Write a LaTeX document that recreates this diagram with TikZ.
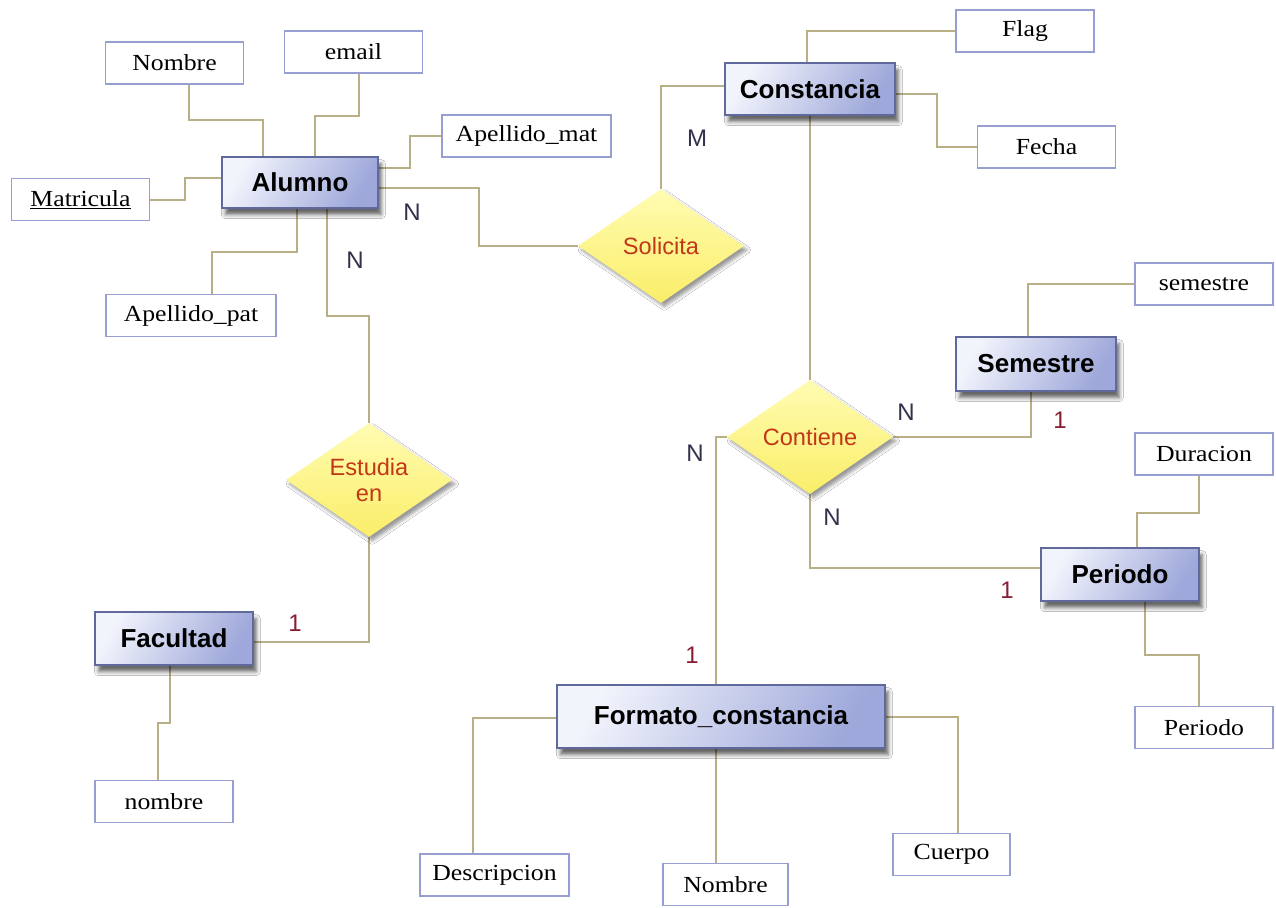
\documentclass[tikz,border=0pt]{standalone}
\usepackage{fontspec}
\usepackage{tikz}
\usetikzlibrary{shapes.geometric, shadows.blur, backgrounds, calc}
\newfontfamily\sansent{Liberation Sans}
\newfontfamily\serifatr[FakeStretch=1.12]{Liberation Serif}
\definecolor{lineaer}{RGB}{185,175,135}
\definecolor{bordeatr}{RGB}{150,158,210}
\definecolor{bordeent}{RGB}{95,105,155}
\definecolor{entclaro}{RGB}{242,244,252}
\definecolor{entoscuro}{RGB}{158,168,218}
\definecolor{relclaro}{RGB}{255,252,178}
\definecolor{reloscuro}{RGB}{250,238,105}
\definecolor{relrojo}{RGB}{195,55,25}
\definecolor{cardazul}{RGB}{50,50,75}
\definecolor{cardrojo}{RGB}{135,30,50}

\begin{document}
\begin{tikzpicture}[x=0.75pt, y=-0.75pt,
    entidad/.style={rectangle, draw=bordeent, line width=1pt,
      left color=entclaro, right color=entoscuro, shading angle=60,
      blur shadow={shadow xshift=2.5pt, shadow yshift=-5pt,
                   shadow blur radius=3pt, shadow opacity=60},
      inner sep=0pt, font=\sansent\bfseries\fontsize{19.5}{22}\selectfont},
    atributo/.style={rectangle, draw=bordeatr, line width=1.2pt, fill=white,
      minimum width=103.5pt, minimum height=31.5pt, inner sep=0pt,
      font=\serifatr\fontsize{17.25}{20}\selectfont},
    relacion/.style={diamond, aspect=1.45, minimum width=124.5pt,
      minimum height=85.5pt, inner sep=0pt,
      top color=relclaro, bottom color=reloscuro,
      blur shadow={shadow xshift=2.5pt, shadow yshift=-3pt,
                   shadow blur radius=2.5pt, shadow opacity=40},
      align=center, text=relrojo,
      font=\sansent\fontsize{17.7}{19.5}\selectfont},
    card/.style={font=\sansent\fontsize{18}{20}\selectfont, text=cardazul},
    cardu/.style={card, text=cardrojo},
    enlace/.style={draw=lineaer, line width=1.5pt}]

    \useasboundingbox (0,0) rectangle (1276,907);

    % Entidades
    \node[entidad, minimum width=117pt, minimum height=38.25pt]
      (alumno) at (300,182.5) {Alumno};
    \node[entidad, minimum width=127.5pt, minimum height=39pt]
      (const) at (810,89) {Constancia};
    \node[entidad, minimum width=120pt, minimum height=40.5pt]
      (semE) at (1036,364) {Semestre};
    \node[entidad, minimum width=118.5pt, minimum height=39.75pt]
      (perE) at (1120,574.5) {Periodo};
    \node[entidad, minimum width=246pt, minimum height=47.25pt]
      (formato) at (721,716.5) {Formato\_constancia};
    \node[entidad, minimum width=118.5pt, minimum height=39.75pt]
      (facu) at (174,638.5) {Facultad};

    % Relaciones
    \node[relacion] (solic) at (661,246) {Solicita};
    \node[relacion] (contiene) at (810,437) {Contiene};
    \node[relacion] (estudia) at (369,480) {Estudia\\en};

    % Atributos de Alumno
    \node[atributo] (nomA) at (174.5,63) {Nombre};
    \node[atributo] (email) at (353.5,52) {email};
    \node[atributo, minimum width=126.75pt] (apmat) at (526.5,136) {Apellido\_mat};
    \node[atributo] (matr) at (80.5,199.5) {\underline{Matricula}};
    \node[atributo, minimum width=127.5pt] (appat) at (191,315.5) {Apellido\_pat};

    % Atributos de Constancia, Semestre y Periodo
    \node[atributo] (flag) at (1025,31) {Flag};
    \node[atributo] (fecha) at (1046.5,147) {Fecha};
    \node[atributo] (semA) at (1204,284) {semestre};
    \node[atributo] (dura) at (1204,454) {Duracion};
    \node[atributo] (perA) at (1204,727.5) {Periodo};

    % Atributos de Formato_constancia y Facultad
    \node[atributo, minimum width=111.75pt] (desc) at (494.5,875) {Descripcion};
    \node[atributo, minimum width=93.75pt] (nomF) at (725.5,884.5) {Nombre};
    \node[atributo, minimum width=87.75pt] (cuer) at (951.5,854.5) {Cuerpo};
    \node[atributo] (nomFac) at (164,801.5) {nombre};

    % Cardinalidades
    \node[card] (cSolA) at (412,212) {N};
    \node[card] (cEstA) at (355,260) {N};
    \node[card] (cSolC) at (697,138) {M};
    \node[cardu] (cEstF) at (295,623) {1};
    \node[card] (cConS) at (906,412) {N};
    \node[cardu] (cSem) at (1060,420) {1};
    \node[card] (cConF) at (695,453) {N};
    \node[cardu] (cForm) at (692,655) {1};
    \node[card] (cConP) at (832,517) {N};
    \node[cardu] (cPer) at (1007,590) {1};

    \begin{scope}[on background layer]
      \fill[white] (0,0) rectangle (1276,907);

      % Lineas de Alumno
      \draw[enlace] ($(nomA.south)+(14.5,0)$) -- ++(0,35)
        -| ($(alumno.north)+(-37,0)$);
      \draw[enlace] ($(email.south)+(5.5,0)$) -- ++(0,42)
        -| ($(alumno.north)+(15,0)$);
      \draw[enlace] (matr.east) -- ++(35,0) |- ($(alumno.west)+(0,-4.5)$);
      \draw[enlace] ($(appat.north)+(21,0)$) -- ++(0,-42)
        -| ($(alumno.south)+(-3,0)$);
      \draw[enlace] (apmat.west) -- ++(-31,0) |- ($(alumno.east)+(0,-14.5)$);
      \draw[enlace] ($(alumno.east)+(0,5.5)$) -- ++(100,0) |- (solic.west);
      \draw[enlace] ($(alumno.south)+(27,0)$) -- ++(0,107) -| (estudia.north);

      % Lineas de Constancia
      \draw[enlace] (solic.north) |- ($(const.west)+(0,-3)$);
      \draw[enlace] ($(const.north)+(-3,0)$) |- (flag.west);
      \draw[enlace] ($(const.east)+(0,5)$) -- ++(41,0) |- (fecha.west);
      \draw[enlace] (const.south) -- (contiene.north);

      % Lineas de Contiene
      \draw[enlace] (semA.west) -| ($(semE.north)+(-8,0)$);
      \draw[enlace] (contiene.east) -| ($(semE.south)+(-5,0)$);
      \draw[enlace] (contiene.west) -| ($(formato.north)+(-5,0)$);
      \draw[enlace] (contiene.south) |- ($(perE.west)+(0,-6.5)$);

      % Lineas de Periodo
      \draw[enlace] ($(dura.south)+(-5,0)$) -- ++(0,37)
        -| ($(perE.north)+(17,0)$);
      \draw[enlace] ($(perE.south)+(25,0)$) -- ++(0,53)
        -| ($(perA.north)+(-5,0)$);

      % Lineas de Formato_constancia
      \draw[enlace] ($(formato.west)+(0,1.5)$) -| ($(desc.north)+(-21.5,0)$);
      \draw[enlace] ($(formato.south)+(-5,0)$) -- ($(nomF.north)+(-9.5,0)$);
      \draw[enlace] (formato.east) -| ($(cuer.north)+(6.5,0)$);

      % Lineas de Facultad
      \draw[enlace] (estudia.south) |- ($(facu.east)+(0,3.5)$);
      \draw[enlace] ($(facu.south)+(-4,0)$) -- ++(0,57)
        -| ($(nomFac.north)+(-6,0)$);
    \end{scope}

  \end{tikzpicture}
\end{document}
